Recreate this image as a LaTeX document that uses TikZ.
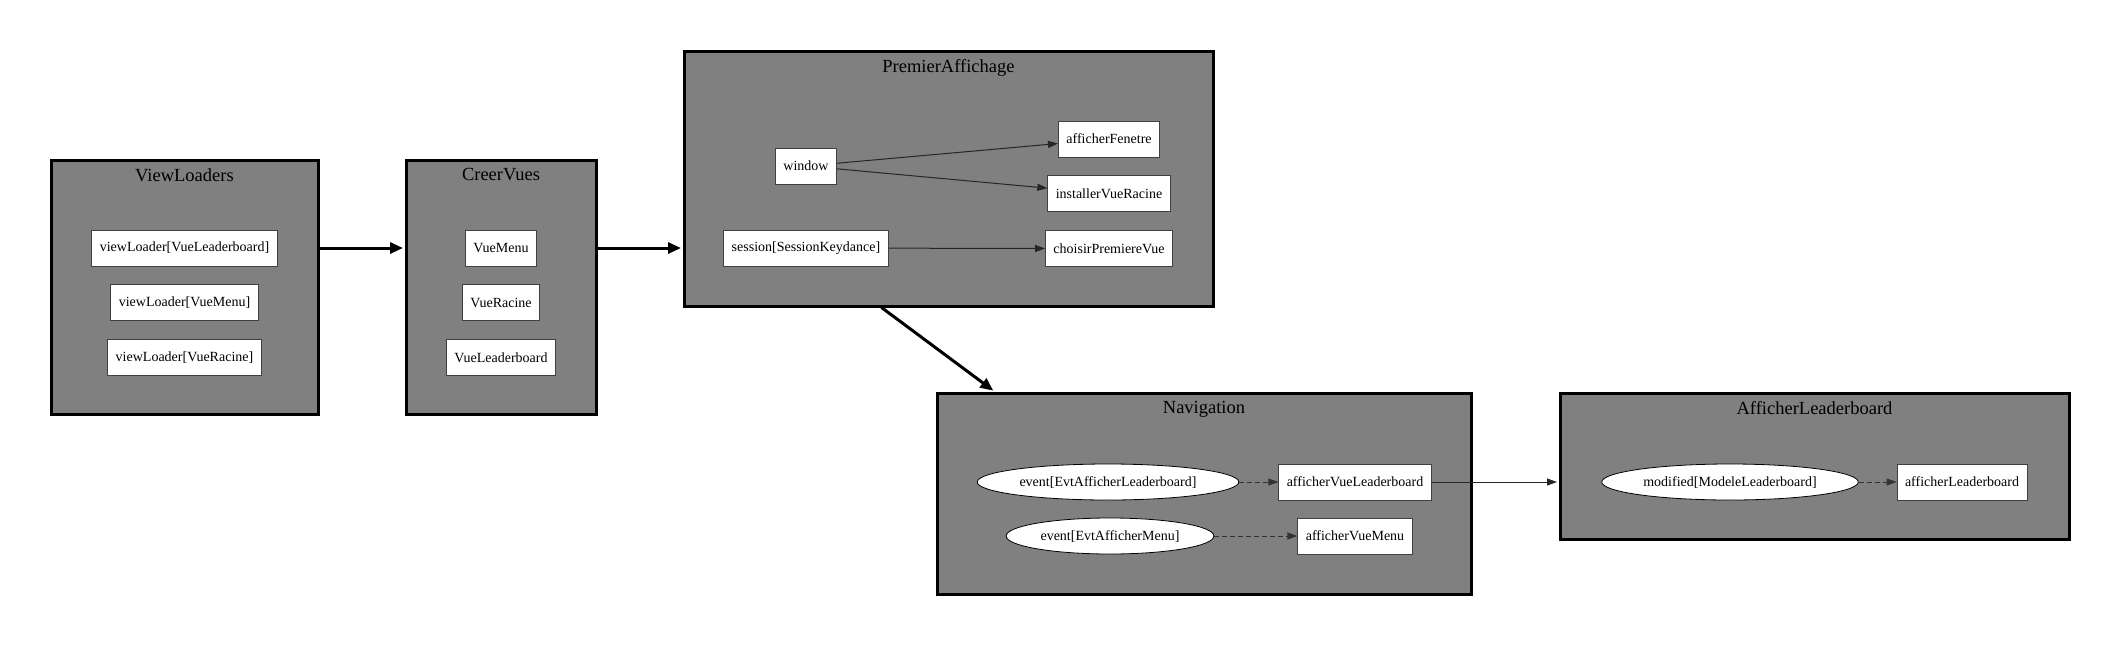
\documentclass[tikz,border=0pt]{standalone}
\usepackage{fontspec}
\setmainfont{Liberation Serif}
\usetikzlibrary{positioning, arrows.meta, shapes}

\begin{document}
\begin{tikzpicture}[x=1pt, y=-1pt, auto]
  \tikzstyle{cluster}=[draw=black, line width=3pt, fill=gray, rectangle];
  \tikzstyle{clustertitle}=[font=\fontsize{18.5}{20}\selectfont, inner sep=2pt];
  \tikzstyle{boxnode}=[draw=black!75, fill=white, rectangle, line width=0.8pt, font=\fontsize{14}{16}\selectfont, inner xsep=8pt, minimum width=54pt, minimum height=36pt];
  \tikzstyle{eventnode}=[draw=black, fill=white, ellipse, line width=0.8pt, font=\fontsize{14}{16}\selectfont, inner xsep=4pt, inner ysep=0pt, minimum height=36pt];
  \tikzstyle{thickarrow}=[line width=3pt, -{Triangle[length=13pt, width=11pt]}];
  \tikzstyle{thinarrow}=[line width=1pt, black!85, -{Triangle[length=10pt, width=7pt]}];
  \tikzstyle{dasharrow}=[line width=1pt, black!80, dash pattern=on 5pt off 3pt, -{Triangle[length=10pt, width=7pt]}];

  \useasboundingbox (0,0) rectangle (2120,646);

  % clusters
  \node [cluster, minimum width=267pt, minimum height=254pt] at (184.5,287) (ViewLoaders) {};
  \node [cluster, minimum width=190pt, minimum height=254pt] at (501,287) (CreerVues) {};
  \node [cluster, minimum width=529pt, minimum height=255pt] at (948.5,178.5) (PremierAffichage) {};
  \node [cluster, minimum width=534pt, minimum height=201pt] at (1204,493.5) (Navigation) {};
  \node [cluster, minimum width=509pt, minimum height=146pt] at (1814.5,466) (AfficherLeaderboard) {};

  \node [clustertitle, below=8pt of ViewLoaders.north] (ViewLoadersTitle) {ViewLoaders};
  \node [clustertitle, below=8pt of CreerVues.north] (CreerVuesTitle) {CreerVues};
  \node [clustertitle, below=8pt of PremierAffichage.north] (PremierAffichageTitle) {PremierAffichage};
  \node [clustertitle, below=8pt of Navigation.north] (NavigationTitle) {Navigation};
  \node [clustertitle, below=8pt of AfficherLeaderboard.north] (AfficherLeaderboardTitle) {AfficherLeaderboard};

  % ViewLoaders
  \node [boxnode] at (184.5,248) (LoaderLeaderboard) {viewLoader[VueLeaderboard]};
  \node [boxnode, below=18pt of LoaderLeaderboard] (LoaderMenu) {viewLoader[VueMenu]};
  \node [boxnode, below=18pt of LoaderMenu] (LoaderRacine) {viewLoader[VueRacine]};

  % CreerVues
  \node [boxnode] at (501,248) (VueMenu) {VueMenu};
  \node [boxnode, below=18pt of VueMenu] (VueRacine) {VueRacine};
  \node [boxnode, below=18pt of VueRacine] (VueLeaderboard) {VueLeaderboard};

  % PremierAffichage
  \node [boxnode] at (806,166) (Window) {window};
  \node [boxnode] at (806,248) (Session) {session[SessionKeydance]};
  \node [boxnode] at (1109,139) (AfficherFenetre) {afficherFenetre};
  \node [boxnode, below=18pt of AfficherFenetre] (InstallerVueRacine) {installerVueRacine};
  \node [boxnode, below=18pt of InstallerVueRacine] (ChoisirPremiereVue) {choisirPremiereVue};

  % Navigation
  \node [eventnode] at (1108,482) (EvtLeaderboard) {event[EvtAfficherLeaderboard]};
  \node [eventnode] at (1110,536) (EvtMenu) {event[EvtAfficherMenu]};
  \node [boxnode] at (1355,482) (AfficherVueLeaderboard) {afficherVueLeaderboard};
  \node [boxnode] at (1355,536) (AfficherVueMenu) {afficherVueMenu};

  % AfficherLeaderboard
  \node [eventnode] at (1730,482) (ModifiedLeaderboard) {modified[ModeleLeaderboard]};
  \node [boxnode] at (1962,482) (AfficherLeaderboardNode) {afficherLeaderboard};

  \path[thickarrow] (ViewLoaders.east |- LoaderLeaderboard) edge [shorten >=1.5pt] (CreerVues.west |- VueMenu);
  \path[thickarrow] (CreerVues.east |- VueMenu) edge [shorten >=1.5pt] (PremierAffichage.west |- Session);
  \path[thickarrow] ([xshift=-67pt]PremierAffichage.south) edge [shorten >=1.5pt] ([xshift=59pt]Navigation.north west);

  \path[thinarrow] (Window) edge (AfficherFenetre)
                            edge (InstallerVueRacine);
  \path[thinarrow] (Session) edge (ChoisirPremiereVue);

  \path[dasharrow] (EvtLeaderboard) edge (AfficherVueLeaderboard);
  \path[dasharrow] (EvtMenu) edge (AfficherVueMenu);
  \path[dasharrow] (ModifiedLeaderboard) edge (AfficherLeaderboardNode);

  \path[thinarrow] (AfficherVueLeaderboard) edge [shorten >=1.5pt] (AfficherLeaderboard.west |- AfficherVueLeaderboard);
\end{tikzpicture}
\end{document}
